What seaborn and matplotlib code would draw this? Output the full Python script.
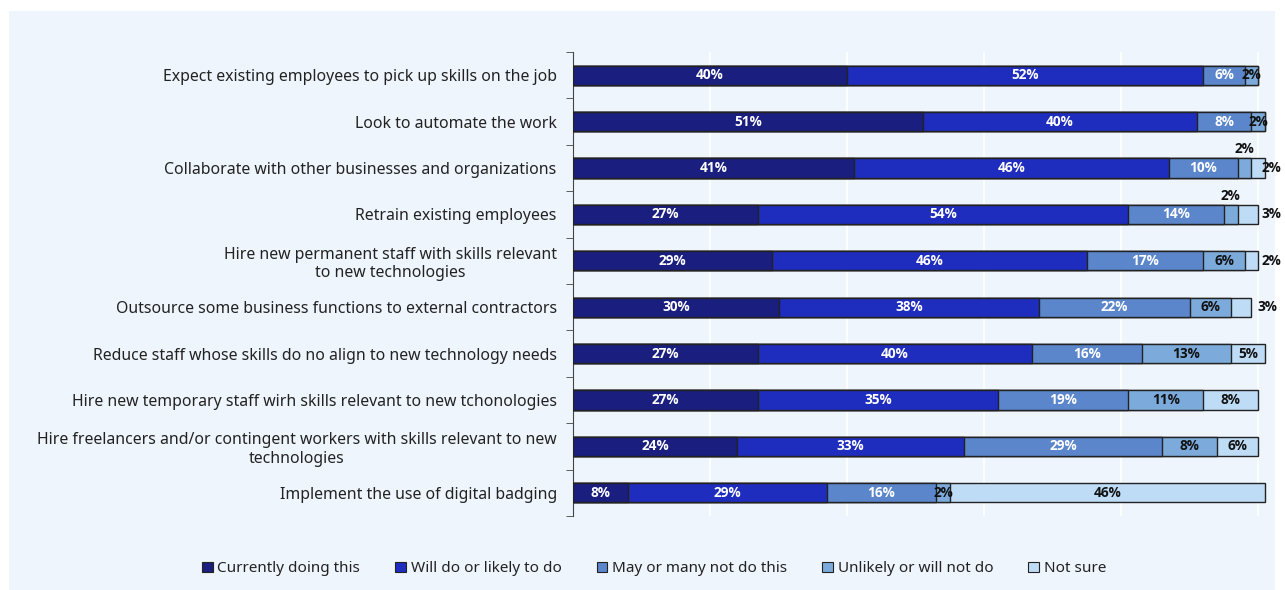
import numpy as np
import pandas as pd
import matplotlib
matplotlib.use("Agg")
import matplotlib.pyplot as plt
import seaborn as sns
from matplotlib.patches import Rectangle, Patch

categories = [
    "Expect existing employees to pick up skills on the job",
    "Look to automate the work",
    "Collaborate with other businesses and organizations",
    "Retrain existing employees",
    "Hire new permanent staff with skills relevant\nto new technologies",
    "Outsource some business functions to external contractors",
    "Reduce staff whose skills do no align to new technology needs",
    "Hire new temporary staff wirh skills relevant to new tchonologies",
    "Hire freelancers and/or contingent workers with skills relevant to new\ntechnologies",
    "Implement the use of digital badging",
]
series_names = ["Currently doing this", "Will do or likely to do", "May or many not do this",
                "Unlikely or will not do", "Not sure"]
currently = [40, 51, 41, 27, 29, 30, 27, 27, 24, 8]
will_do = [52, 40, 46, 54, 46, 38, 40, 35, 33, 29]
may_not = [6, 8, 10, 14, 17, 22, 16, 19, 29, 16]
unlikely = [2, 2, 2, 2, 6, 6, 13, 11, 8, 2]
not_sure = [0, 0, 2, 3, 2, 3, 5, 8, 6, 46]

colors = ["#191e7f", "#1f2dbe", "#5b86cb", "#7cabdb", "#bedcf6"]
text_colors = ["white", "white", "white", "#111111", "#111111"]
bg = "#eef5fc"

values = np.array([currently, will_do, may_not, unlikely, not_sure], dtype=float)
cum = np.cumsum(values, axis=0)

fig = plt.figure(figsize=(12.85, 5.9), dpi=100)
fig.patch.set_facecolor("white")
fig.patches.append(Rectangle((9 / 1285, 0), 1266 / 1285, 579 / 590, transform=fig.transFigure,
                             facecolor=bg, edgecolor="none", zorder=-10))
ax = fig.add_axes([573 / 1285, 74 / 590, 699 / 1285, 464 / 590])
ax.set_facecolor(bg)

# stacked bars: draw cumulative totals from widest to narrowest
for i in range(len(series_names) - 1, -1, -1):
    df = pd.DataFrame({"cat": categories, "val": cum[i]})
    sns.barplot(data=df, x="val", y="cat", orient="y", color=colors[i], saturation=1,
                width=0.41, edgecolor="#222222", linewidth=1, ax=ax, zorder=3)

ax.set_xlim(0, 102)
ax.set_ylim(len(categories) - 0.5, -0.5)
ax.set_xticks([20, 40, 60, 80, 100])
ax.set_xticklabels([])
ax.tick_params(axis="x", length=0)
ax.grid(axis="x", color="white", linewidth=1.2, zorder=0)
ax.set_axisbelow(True)
ax.set_xlabel("")
ax.set_ylabel("")
for s in ["top", "right", "bottom"]:
    ax.spines[s].set_visible(False)
ax.spines["left"].set_color("#444444")
ax.tick_params(axis="y", which="major", length=0, pad=11.7, labelsize=11.4, labelcolor="#222222")
ax.set_yticks(np.arange(-0.5, len(categories), 1), minor=True)
ax.tick_params(axis="y", which="minor", length=5, color="#444444", direction="out")
for lab in ax.get_yticklabels():
    lab.set_multialignment("center")
    lab.set_family("Noto Sans")

# segment labels
for i in range(len(series_names)):
    for j, v in enumerate(values[i]):
        if v <= 0:
            continue
        left = cum[i][j] - v
        x, y, ha = left + v / 2, j, "center"
        if i == 4 and v <= 3:
            x, ha = min(cum[i][j] + 0.9, 100.4), "left"
        elif i == 3 and v <= 2 and j in (2, 3):
            y = j - 0.40
        ax.text(x, y, f"{int(v)}%", ha=ha, va="center", color=text_colors[i],
                fontsize=9.8, fontweight="bold", family=["Open Sans", "DejaVu Sans"],
                zorder=5, clip_on=False)

handles = [Patch(facecolor=c, edgecolor="#222222", linewidth=0.8) for c in colors]
fig.legend(handles, series_names, loc="center", bbox_to_anchor=(0.509, 0.036), ncol=5,
           frameon=False, prop={"family": "Noto Sans", "size": 11}, handlelength=0.7,
           handleheight=0.7, handletextpad=0.3, columnspacing=2.3, labelcolor="#222222")

fig.savefig("out.png", dpi=100, facecolor="white")
